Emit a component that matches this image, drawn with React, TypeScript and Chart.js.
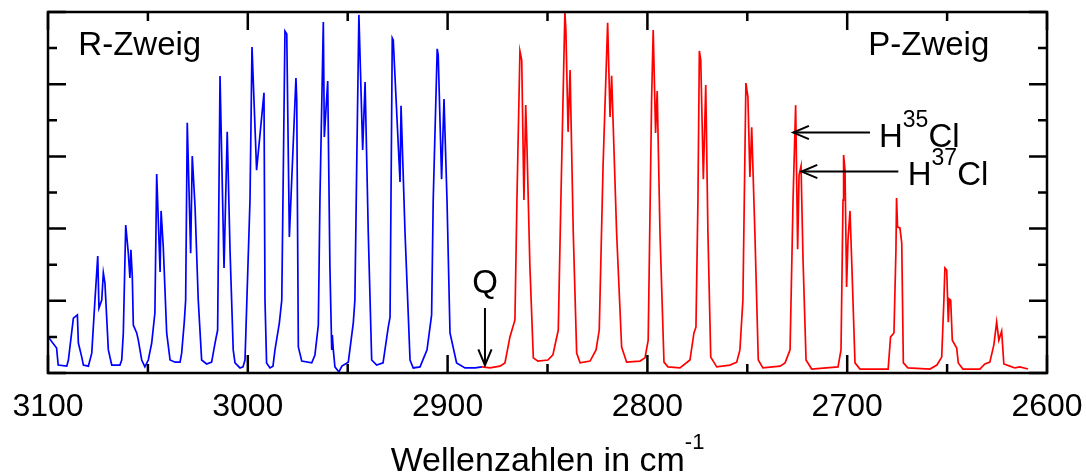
import React, { useEffect, useRef } from "react";
import { Chart, registerables } from "chart.js";

Chart.register(...registerables);

// ---------- data (wavenumber in cm^-1, relative absorbance 0..10) ----------
const blueX = [
  3099.9, 3095.7, 3094.9, 3090.6, 3089.8, 3087.3, 3085.3, 3084.8, 3083.1, 3082.3,
  3079.8, 3078.1, 3076.5, 3075.1, 3074.5, 3073.1, 3072.3, 3071.5, 3069.8, 3068.1,
  3064.0, 3063.1, 3062.3, 3061.1, 3059.8, 3059.0, 3058.5, 3057.8, 3057.3, 3055.6,
  3054.8, 3053.1, 3051.5, 3049.8, 3048.1, 3046.5, 3045.6, 3043.9, 3043.4, 3042.3,
  3040.6, 3038.9, 3036.4, 3033.9, 3033.1, 3031.8, 3031.1, 3030.3, 3028.6, 3027.8,
  3026.4, 3024.8, 3023.1, 3020.6, 3018.1, 3016.4, 3015.1, 3013.9, 3011.9, 3010.3,
  3008.9, 3007.3, 3006.4, 3003.9, 3002.4, 3001.4, 2998.9, 2997.9, 2995.6, 2991.9,
  2991.4, 2990.6, 2988.9, 2987.4, 2986.4, 2984.2, 2983.0, 2981.4, 2980.5, 2979.2,
  2975.9, 2975.5, 2974.7, 2973.0, 2968.0, 2966.4, 2964.7, 2963.9, 2962.2, 2961.7,
  2960.0, 2958.9, 2958.0, 2957.7, 2957.2, 2956.4, 2954.4, 2952.9, 2949.7, 2947.2,
  2946.4, 2945.5, 2944.4, 2942.5, 2941.3, 2939.7, 2938.0, 2935.5, 2932.3, 2929.7,
  2928.8, 2927.7, 2927.2, 2923.8, 2923.3, 2921.3, 2918.8, 2917.2, 2913.8, 2910.3,
  2908.0, 2907.2, 2905.2, 2904.7, 2903.0, 2901.8, 2900.3, 2898.8, 2895.5, 2891.3,
  2886.3, 2882.8,
];
const blueY = [
  1.00, 0.69, 0.22, 0.19, 0.36, 1.52, 1.61, 0.83, 0.44, 0.22,
  0.19, 0.55, 2.02, 3.24, 1.80, 2.02, 2.77, 2.49, 0.64, 0.22,
  0.22, 0.36, 1.11, 4.10, 3.32, 2.63, 3.41, 2.66, 1.33, 1.11,
  0.91, 0.36, 0.17, 0.36, 0.83, 1.66, 5.51, 2.80, 4.49, 3.49,
  1.11, 0.36, 0.30, 0.30, 0.55, 1.41, 2.02, 6.93, 3.32, 6.01,
  4.60, 2.02, 0.36, 0.25, 0.30, 0.83, 1.19, 8.23, 2.91, 6.68,
  3.41, 0.64, 0.28, 0.14, 0.17, 0.36, 4.79, 9.03, 5.62, 7.76,
  2.02, 0.28, 0.14, 0.19, 0.64, 1.39, 2.02, 9.47, 9.39, 3.77,
  8.17, 7.56, 0.72, 0.33, 0.28, 0.50, 1.33, 4.79, 9.72, 6.54,
  8.09, 2.94, 0.64, 1.05, 0.64, 0.17, 0.03, 0.19, 0.30, 1.39,
  2.02, 5.71, 9.92, 6.18, 8.06, 3.88, 0.36, 0.22, 0.28, 1.27,
  1.55, 9.28, 9.22, 5.29, 7.40, 3.88, 0.36, 0.14, 0.17, 0.64,
  1.61, 4.79, 8.98, 8.81, 5.37, 7.59, 4.79, 1.11, 0.28, 0.14,
  0.14, 0.17,
];
const redX = [
  2882.8, 2878.8, 2873.8, 2871.3, 2868.8, 2866.3, 2865.3, 2863.8, 2862.9, 2861.8,
  2860.9, 2860.3, 2858.8, 2857.1, 2854.8, 2849.8, 2847.3, 2844.6, 2843.3, 2841.3,
  2840.8, 2839.7, 2838.7, 2837.1, 2835.4, 2833.7, 2828.7, 2825.7, 2824.1, 2822.2,
  2819.9, 2818.7, 2817.9, 2815.4, 2812.9, 2810.4, 2803.7, 2801.2, 2799.6, 2797.9,
  2797.1, 2795.9, 2795.1, 2793.7, 2791.7, 2789.7, 2783.7, 2778.7, 2776.7, 2775.7,
  2774.7, 2774.0, 2773.3, 2772.0, 2770.8, 2769.7, 2768.3, 2765.3, 2758.7, 2755.3,
  2753.7, 2752.2, 2750.7, 2749.7, 2748.7, 2747.8, 2746.2, 2744.5, 2742.2, 2733.6,
  2731.1, 2728.6, 2727.1, 2725.8, 2724.8, 2724.1, 2723.1, 2722.1, 2720.6, 2717.8,
  2704.6, 2703.1, 2702.1, 2701.8, 2701.1, 2700.3, 2699.6, 2698.6, 2697.6, 2696.1,
  2693.6, 2679.5, 2678.3, 2676.6, 2675.6, 2675.3, 2674.8, 2673.6, 2672.7, 2671.9,
  2669.6, 2658.6, 2655.1, 2652.7, 2651.6, 2651.1, 2650.2, 2649.4, 2648.9, 2648.2,
  2647.4, 2645.2, 2644.4, 2642.1, 2633.6, 2631.1, 2628.6, 2626.6, 2625.2, 2624.1,
  2622.7, 2621.6, 2618.6, 2616.1, 2613.6, 2609.5,
];
const redY = [
  0.17, 0.14, 0.19, 0.28, 1.00, 1.47, 4.79, 8.92, 8.67, 4.79,
  7.42, 6.32, 2.94, 0.42, 0.33, 0.36, 0.50, 1.19, 4.79, 10.0,
  9.50, 6.68, 8.39, 3.88, 0.55, 0.28, 0.33, 0.64, 1.19, 5.71,
  9.70, 7.09, 8.23, 3.88, 0.72, 0.30, 0.33, 0.42, 0.91, 7.56,
  9.50, 6.65, 7.81, 3.88, 0.30, 0.17, 0.14, 0.36, 1.11, 1.27,
  4.79, 8.92, 8.67, 5.37, 7.98, 3.88, 0.44, 0.17, 0.22, 0.30,
  0.64, 2.02, 8.03, 7.65, 5.43, 6.81, 3.88, 0.36, 0.14, 0.19,
  0.28, 0.64, 4.79, 7.42, 3.43, 5.48, 5.73, 3.13, 0.36, 0.11,
  0.17, 0.64, 4.79, 6.04, 5.62, 2.38, 3.68, 4.49, 2.85, 0.28,
  0.11, 0.11, 1.00, 1.11, 3.41, 4.85, 4.04, 4.02, 3.60, 0.28,
  0.14, 0.11, 0.22, 0.44, 2.02, 2.91, 2.85, 1.41, 2.05, 2.02,
  0.91, 0.69, 0.28, 0.11, 0.11, 0.25, 0.30, 0.78, 1.41, 0.91,
  1.16, 0.25, 0.19, 0.14, 0.17, 0.11,
];

const xTickValues = [3100, 3000, 2900, 2800, 2700, 2600];
const xMin = 2600;
const xMax = 3100;
const yMin = 0;
const yMax = 10;

const FONT = "'Liberation Sans', Arial, Helvetica, sans-serif";

function toPoints(xs: number[], ys: number[]) {
  return xs.map((x, i) => ({ x, y: ys[i] }));
}

function drawArrow(ctx: CanvasRenderingContext2D, x1: number, y1: number, x2: number, y2: number) {
  ctx.beginPath();
  ctx.moveTo(x1, y1);
  ctx.lineTo(x2, y2);
  ctx.stroke();
  const ang = Math.atan2(y2 - y1, x2 - x1);
  const len = 17;
  const spread = 0.4;
  ctx.beginPath();
  ctx.moveTo(x2 - len * Math.cos(ang - spread), y2 - len * Math.sin(ang - spread));
  ctx.lineTo(x2, y2);
  ctx.lineTo(x2 - len * Math.cos(ang + spread), y2 - len * Math.sin(ang + spread));
  ctx.stroke();
}

function drawSupText(
  ctx: CanvasRenderingContext2D,
  x: number,
  y: number,
  parts: { t: string; sup?: boolean }[],
  size: number,
  supSize: number,
  raise: number
) {
  let cx = x;
  for (const p of parts) {
    ctx.font = `${p.sup ? supSize : size}px ${FONT}`;
    ctx.fillText(p.t, cx, p.sup ? y - raise : y);
    cx += ctx.measureText(p.t).width;
  }
}

const framePlugin = {
  id: "framePlugin",
  afterDatasetsDraw(chart: any) {
    const { ctx, chartArea: a, scales } = chart;
    const xs = scales.x;
    const ys = scales.y;
    ctx.save();
    ctx.strokeStyle = "#000";
    ctx.fillStyle = "#000";
    ctx.lineWidth = 2.5;
    ctx.lineCap = "butt";
    ctx.strokeRect(a.left, a.top, a.right - a.left, a.bottom - a.top);

    for (let v = xMin; v <= xMax; v += 50) {
      const px = xs.getPixelForValue(v);
      const len = v % 100 === 0 ? 18 : 9;
      ctx.beginPath();
      ctx.moveTo(px, a.bottom);
      ctx.lineTo(px, a.bottom - len);
      ctx.moveTo(px, a.top);
      ctx.lineTo(px, a.top + len);
      ctx.stroke();
    }
    for (let v = yMin; v <= yMax; v += 1) {
      const py = ys.getPixelForValue(v);
      const len = v % 2 === 0 ? 18 : 9;
      ctx.beginPath();
      ctx.moveTo(a.left, py);
      ctx.lineTo(a.left + len, py);
      ctx.moveTo(a.right, py);
      ctx.lineTo(a.right - len, py);
      ctx.stroke();
    }

    // annotations
    ctx.lineWidth = 2;
    ctx.textBaseline = "alphabetic";
    ctx.font = `33px ${FONT}`;
    ctx.textAlign = "left";
    ctx.fillText("R-Zweig", xs.getPixelForValue(3084.8), ys.getPixelForValue(8.81));
    ctx.textAlign = "right";
    ctx.fillText("P-Zweig", xs.getPixelForValue(2628.9), ys.getPixelForValue(8.81));

    ctx.textAlign = "center";
    ctx.fillText("Q", xs.getPixelForValue(2881.3), ys.getPixelForValue(2.21));
    drawArrow(
      ctx,
      xs.getPixelForValue(2881.3), ys.getPixelForValue(1.8),
      xs.getPixelForValue(2881.3), ys.getPixelForValue(0.22)
    );

    drawArrow(
      ctx,
      xs.getPixelForValue(2688.6), ys.getPixelForValue(6.66),
      xs.getPixelForValue(2727.0), ys.getPixelForValue(6.66)
    );
    drawArrow(
      ctx,
      xs.getPixelForValue(2674.4), ys.getPixelForValue(5.58),
      xs.getPixelForValue(2722.8), ys.getPixelForValue(5.58)
    );
    ctx.textAlign = "left";
    drawSupText(ctx, xs.getPixelForValue(2684.1), ys.getPixelForValue(6.27),
      [{ t: "H" }, { t: "35", sup: true }, { t: "Cl" }], 33, 23, 20);
    drawSupText(ctx, xs.getPixelForValue(2669.7), ys.getPixelForValue(5.21),
      [{ t: "H" }, { t: "37", sup: true }, { t: "Cl" }], 33, 23, 20);

    // axis title with superscript
    const main = "Wellenzahlen in cm";
    const sup = "-1";
    ctx.font = `34px ${FONT}`;
    const w1 = ctx.measureText(main).width;
    ctx.font = `22px ${FONT}`;
    const w2 = ctx.measureText(sup).width;
    const cx = (a.left + a.right) / 2;
    const startX = cx - (w1 + w2) / 2;
    drawSupText(ctx, startX, 471, [{ t: main }, { t: sup, sup: true }], 34, 22, 22);
    ctx.restore();
  },
};

export default function App() {
  const ref = useRef<HTMLCanvasElement | null>(null);

  useEffect(() => {
    document.body.style.margin = "0";
    if (!ref.current) return;
    const chart = new Chart(ref.current, {
      type: "line",
      data: {
        datasets: [
          {
            label: "R-Zweig",
            data: toPoints(blueX, blueY),
            borderColor: "#0000ff",
            borderWidth: 1.7,
            pointRadius: 0,
            tension: 0,
            fill: false,
          },
          {
            label: "P-Zweig",
            data: toPoints(redX, redY),
            borderColor: "#ff0000",
            borderWidth: 1.7,
            pointRadius: 0,
            tension: 0,
            fill: false,
          },
        ],
      },
      options: {
        animation: false,
        responsive: true,
        maintainAspectRatio: false,
        layout: { padding: { left: 48, right: 39, top: 12, bottom: 0 } },
        plugins: {
          legend: { display: false },
          tooltip: { enabled: false },
        },
        scales: {
          x: {
            type: "linear",
            reverse: true,
            min: xMin,
            max: xMax,
            grid: { display: false },
            border: { display: false },
            afterBuildTicks: (scale: any) => {
              scale.ticks = xTickValues.map((v) => ({ value: v }));
            },
            afterFit: (scale: any) => {
              scale.height = 100;
            },
            ticks: {
              autoSkip: false,
              maxRotation: 0,
              padding: 0,
              color: "#000",
              font: { family: FONT, size: 32, lineHeight: 1.65 },
              callback: (v: any) => String(v),
            },
          },
          y: {
            display: false,
            min: yMin,
            max: yMax,
          },
        },
      },
      plugins: [framePlugin],
    });
    return () => chart.destroy();
  }, []);

  return (
    <div style={{ position: "relative", width: "1086px", height: "473px" }}>
      <canvas ref={ref} />
    </div>
  );
}
